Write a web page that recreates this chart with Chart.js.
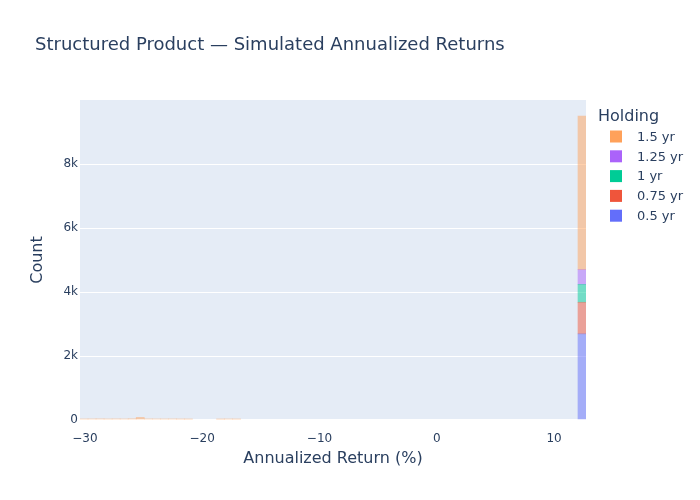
<!DOCTYPE html>
<html><head><meta charset="utf-8">
<script src="https://cdn.jsdelivr.net/npm/chart.js@4"></script>
<style>html,body{margin:0;padding:0;background:#fff}#wrap{width:700px;height:500px;position:relative}</style>
</head><body><div id="wrap"><canvas id="c" width="700" height="500"></canvas></div>
<script>
// Bin centers (Annualized Return, %) of the non-empty histogram bins
const binCenters = [-30.078, -29.393, -28.708, -28.023, -27.338, -26.654, -25.969, -25.284, -24.599, -23.914, -23.230, -22.545, -21.860, -21.175, -18.436, -17.751, -17.066, 12.380];
const holdingLabels = ['0.5 yr', '0.75 yr', '1 yr', '1.25 yr', '1.5 yr'];
const holdingColors = ['#636EFA', '#EF553B', '#00CC96', '#AB63FA', '#FFA15A'];
const count05  = [null, null, null, null, null, null, null, null, null, null, null, null, null, null, null, null, null, 2690];
const count075 = [null, null, null, null, null, null, null, null, null, null, null, null, null, null, null, null, null, 985];
const count1   = [null, null, null, null, null, null, null, null, null, null, null, null, null, null, null, null, null, 560];
const count125 = [null, null, null, null, null, null, null, null, null, null, null, null, null, null, null, null, null, 460];
const count15  = [30, 32, 34, 30, 33, 31, 36, 80, 33, 31, 30, 32, 29, 28, 27, 30, 28, 4790];
const yTicks = ['0', '2k', '4k', '6k', '8k'];
const chartTitle = 'Structured Product — Simulated Annualized Returns';
const xTitle = 'Annualized Return (%)';
const yTitle = 'Count';
const legendTitle = 'Holding';

const seriesCounts = [count05, count075, count1, count125, count15];
const FONT = "'DejaVu Sans', sans-serif";
const TXT = '#2a3f5f';

function hexA(hex, a) {
  const n = parseInt(hex.slice(1), 16);
  return `rgba(${(n >> 16) & 255},${(n >> 8) & 255},${n & 255},${a})`;
}

const datasets = seriesCounts.map((arr, i) => ({
  label: holdingLabels[i],
  data: binCenters.map((c, j) => ({ x: c, y: arr[j] })),
  backgroundColor: hexA(holdingColors[i], 0.5),
  swatch: holdingColors[i],
  borderWidth: 0,
  barPercentage: 1,
  categoryPercentage: 1
}));

const decor = {
  id: 'decor',
  beforeDraw(chart) {
    const { ctx, chartArea: a } = chart;
    ctx.save();
    ctx.fillStyle = '#fff';
    ctx.fillRect(0, 0, chart.width, chart.height);
    ctx.fillStyle = '#E5ECF6';
    ctx.fillRect(a.left, a.top, a.right - a.left, a.bottom - a.top);
    ctx.restore();
  },
  afterDraw(chart) {
    const { ctx } = chart;
    ctx.save();
    ctx.fillStyle = TXT;
    ctx.textAlign = 'left';
    ctx.textBaseline = 'alphabetic';
    ctx.font = `18px ${FONT}`;
    ctx.fillText(chartTitle, 35, 50);
    ctx.textBaseline = 'middle';
    ctx.font = `16px ${FONT}`;
    ctx.fillText(legendTitle, 598, 117);
    ctx.font = `13px ${FONT}`;
    const ds = chart.data.datasets.slice().reverse();
    ds.forEach((d, i) => {
      const cy = 136.5 + i * 19.8;
      ctx.fillStyle = d.swatch;
      ctx.fillRect(610, cy - 6, 12, 12);
      ctx.fillStyle = TXT;
      ctx.fillText(d.label, 637, cy + 1);
    });
    ctx.restore();
  }
};

new Chart(document.getElementById('c'), {
  type: 'bar',
  data: { datasets },
  plugins: [decor],
  options: {
    responsive: false,
    animation: false,
    devicePixelRatio: 1,
    layout: { padding: { left: 0, top: 100, right: 114, bottom: 0 } },
    plugins: { legend: { display: false }, title: { display: false }, tooltip: { enabled: false } },
    scales: {
      x: {
        type: 'linear',
        stacked: true,
        min: -30.42,
        max: 12.72,
        offset: false,
        grid: { display: false },
        border: { display: false },
        ticks: {
          stepSize: 10,
          includeBounds: false,
          maxRotation: 0,
          padding: 4,
          color: TXT,
          font: { family: FONT, size: 12 },
          callback: v => String(v).replace('-', '\u2212')
        },
        title: { display: true, text: xTitle, color: TXT, font: { family: FONT, size: 16 }, padding: { top: 0, bottom: 32 } },
        afterFit: s => { s.height = 80; }
      },
      y: {
        stacked: true,
        min: 0,
        max: 9990,
        grid: {
          color: '#ffffff',
          lineWidth: c => (c.tick && c.tick.value === 0 ? 2 : 1),
          drawTicks: false
        },
        border: { display: false },
        ticks: {
          stepSize: 2000,
          includeBounds: false,
          padding: 2,
          color: TXT,
          font: { family: FONT, size: 12 },
          callback: (v, i) => yTicks[i]
        },
        title: { display: true, text: yTitle, color: TXT, font: { family: FONT, size: 16 }, padding: { top: 28, bottom: 0 } },
        afterFit: s => { s.width = 80; }
      }
    }
  }
});
</script>
</body></html>
